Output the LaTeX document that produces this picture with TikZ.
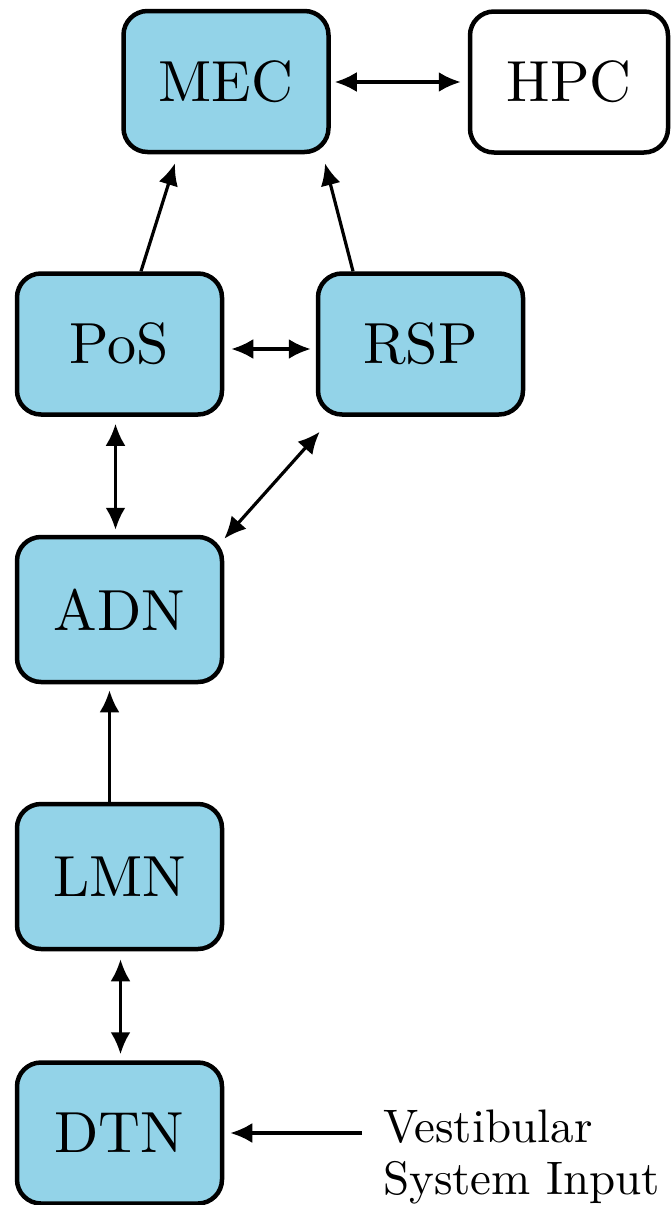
\documentclass[tikz,border=0pt]{standalone}
\usepackage{fontspec}
\newfontfamily\lmten{lmroman10-regular.otf}
\usetikzlibrary{arrows.meta,calc}
\definecolor{boxblue}{RGB}{147,211,232}
\tikzset{
  region/.style={draw=black, line width=4.5pt, rounded corners=24pt,
    minimum width=205pt, minimum height=141pt, inner sep=0pt,
    font=\lmten\fontsize{58}{66}\selectfont, text=black},
  bluebox/.style={region, fill=boxblue},
  whitebox/.style={region, fill=white},
  arr/.style={line width=3.2pt, -{Latex[length=22pt,width=20pt]}},
  dbl/.style={line width=3.2pt, {Latex[length=22pt,width=20pt]}-{Latex[length=22pt,width=20pt]}},
  lbl/.style={font=\lmten\fontsize{47}{54}\selectfont, inner sep=0pt, anchor=base west}
}
\begin{document}
\begin{tikzpicture}[x=1pt,y=-1pt]
\useasboundingbox[fill=white] (0,0) rectangle (671,1205);
\node[bluebox] (MEC) at (226,81.5) {MEC};
\node[whitebox, minimum width=198pt] (HPC) at (569,82) {HPC};
\node[bluebox] (PoS) at (119.5,344) {PoS};
\node[bluebox] (RSP) at (420.5,344) {RSP};
\node[bluebox, minimum height=145pt] (ADN) at (119.5,609.5) {ADN};
\node[bluebox, minimum height=145pt] (LMN) at (119.5,876.5) {LMN};
\node[bluebox] (DTN) at (119.5,1133) {DTN};
\node[lbl] (vest1) at (383,1142) {Vestibular};
\node[lbl] (vest2) at (383,1194) {System Input};
\coordinate (vin) at (362,1133);
\draw[dbl] ($(MEC.east)+(4,0.5)$) -- ($(HPC.west)+(-7,0)$);
\draw[arr] ($(PoS.north)+(21.5,0)$) -- ($(MEC.south)+(-51,9)$);
\draw[arr] ($(RSP.north)+(-67.5,0)$) -- ($(MEC.south)+(99,9)$);
\draw[dbl] ($(PoS.east)+(7,5)$) -- ($(RSP.west)+(-5,5)$);
\draw[dbl] ($(PoS.south)+(-4,7)$) -- ($(ADN.north)+(-4,-5)$);
\draw[dbl] ($(RSP.south west)+(4,15)$) -- ($(ADN.north east)+(0,4)$);
\draw[arr] ($(LMN.north)+(-10,0)$) -- ($(ADN.south)+(-10,6)$);
\draw[dbl] ($(LMN.south)+(1,8)$) -- ($(DTN.north)+(1,-6)$);
\draw[arr] (vin) -- ($(DTN.east)+(6,0)$);
\end{tikzpicture}
\end{document}
